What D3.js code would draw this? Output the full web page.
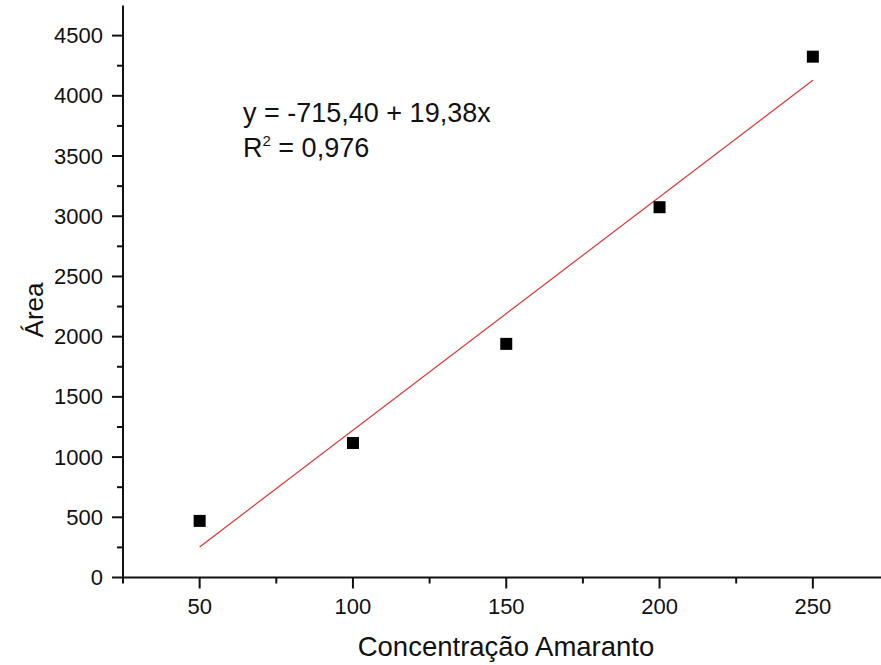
<!DOCTYPE html>
<html>
<head>
<meta charset="utf-8">
<script src="https://cdn.jsdelivr.net/npm/d3@7"></script>
<style>
  html, body { margin: 0; padding: 0; background: #fff; }
  svg text { font-family: "Liberation Sans", Arial, sans-serif; fill: #111; }
</style>
</head>
<body>
<svg id="chart" width="881" height="665"></svg>
<script>
// Calibration data: concentration vs. peak area
const concentrations = [50, 100, 150, 200, 250];
const areas = [470, 1117, 1940, 3075, 4325];

// Linear fit y = a + b x
const fitIntercept = -715.40;
const fitSlope = 19.38;
const fitRange = [50, 250];

const xTicks = [50, 100, 150, 200, 250];
const xMinorTicks = [25, 75, 125, 175, 225];
const yTicks = [0, 500, 1000, 1500, 2000, 2500, 3000, 3500, 4000, 4500];
const yMinorTicks = [250, 750, 1250, 1750, 2250, 2750, 3250, 3750, 4250];

const xTitle = "Concentração Amaranto";
const yTitle = "Área";

const svg = d3.select("#chart");

const x = d3.scaleLinear().domain([25, 275]).range([123, 889.5]);
const y = d3.scaleLinear().domain([0, 4750]).range([577.5, 5.5]);

// Axes: major ticks outward, minor ticks shorter
const xAxis = svg.append("g").attr("transform", `translate(0,${y(0)})`);
xAxis.append("line").attr("x1", x(25)).attr("x2", 881)
  .attr("stroke", "#111").attr("stroke-width", 2);
xAxis.selectAll(".maj").data(xTicks).join("line")
  .attr("x1", d => x(d)).attr("x2", d => x(d)).attr("y1", 0).attr("y2", 11)
  .attr("stroke", "#111").attr("stroke-width", 2);
xAxis.selectAll(".min").data(xMinorTicks).join("line")
  .attr("x1", d => x(d)).attr("x2", d => x(d)).attr("y1", 0).attr("y2", 6)
  .attr("stroke", "#111").attr("stroke-width", 2);
xAxis.selectAll("text").data(xTicks).join("text")
  .attr("x", d => x(d)).attr("y", 36)
  .attr("text-anchor", "middle").attr("font-size", 22)
  .text(d => d);

const yAxis = svg.append("g").attr("transform", `translate(${x(25)},0)`);
yAxis.append("line").attr("y1", y(0) + 1).attr("y2", y(4750))
  .attr("stroke", "#111").attr("stroke-width", 2);
yAxis.selectAll(".maj").data(yTicks).join("line")
  .attr("y1", d => y(d)).attr("y2", d => y(d)).attr("x1", 0).attr("x2", -11)
  .attr("stroke", "#111").attr("stroke-width", 2);
yAxis.selectAll(".min").data(yMinorTicks).join("line")
  .attr("y1", d => y(d)).attr("y2", d => y(d)).attr("x1", 0).attr("x2", -6)
  .attr("stroke", "#111").attr("stroke-width", 2);
yAxis.selectAll("text").data(yTicks).join("text")
  .attr("x", -20).attr("y", d => y(d) + 7.5)
  .attr("text-anchor", "end").attr("font-size", 22)
  .text(d => d);

// Axis titles
svg.append("text").attr("x", 506).attr("y", 656)
  .attr("text-anchor", "middle").attr("font-size", 27.5).text(xTitle);
svg.append("text")
  .attr("transform", "translate(43,310) rotate(-90)")
  .attr("text-anchor", "middle").attr("font-size", 26).text(yTitle);

// Fitted line
svg.append("line")
  .attr("x1", x(fitRange[0])).attr("y1", y(fitIntercept + fitSlope * fitRange[0]))
  .attr("x2", x(fitRange[1])).attr("y2", y(fitIntercept + fitSlope * fitRange[1]))
  .attr("stroke", "#de3434").attr("stroke-width", 1.2);

// Data points
const s = 12;
svg.selectAll(".pt").data(concentrations).join("rect")
  .attr("x", (d) => x(d) - s / 2)
  .attr("y", (d, i) => y(areas[i]) - s / 2)
  .attr("width", s).attr("height", s).attr("fill", "#000");

// Fit equation
svg.append("text").attr("x", 243).attr("y", 121.5).attr("font-size", 27)
  .text("y = -715,40 + 19,38x");
const r2 = svg.append("text").attr("x", 243).attr("y", 157).attr("font-size", 27);
r2.append("tspan").text("R");
r2.append("tspan").attr("font-size", 15).attr("dy", -11).text("2");
r2.append("tspan").attr("dy", 11).text(" = 0,976");
</script>
</body>
</html>
